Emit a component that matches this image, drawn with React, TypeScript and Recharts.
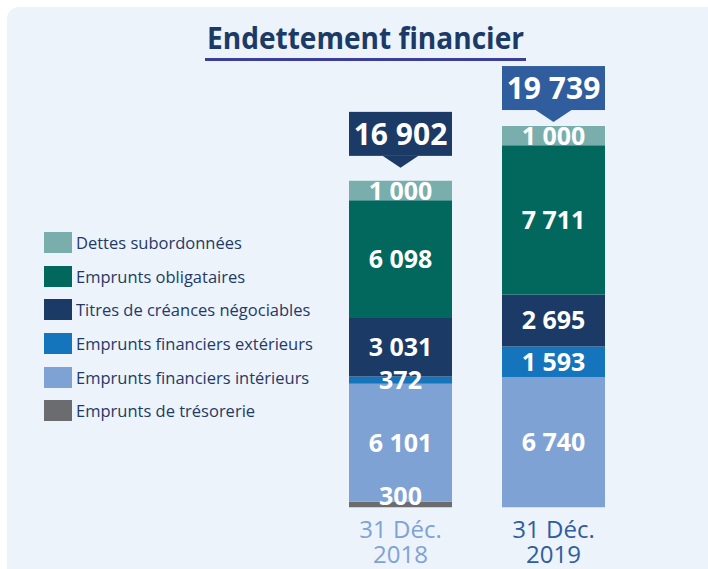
import { Bar, BarChart, LabelList, Legend, XAxis, YAxis } from 'recharts';

const categories = ['2018', '2019'];
const tresorerie = [300, 0];
const interieurs = [6101, 6740];
const exterieurs = [372, 1593];
const titres = [3031, 2695];
const obligataires = [6098, 7711];
const subordonnees = [1000, 1000];
const totals = [16902, 19739];

const seriesNames = {
    tresorerie: 'Emprunts de trésorerie',
    interieurs: 'Emprunts financiers intérieurs',
    exterieurs: 'Emprunts financiers extérieurs',
    titres: 'Titres de créances négociables',
    obligataires: 'Emprunts obligataires',
    subordonnees: 'Dettes subordonnées',
};

const colors = {
    tresorerie: '#6b6c70',
    interieurs: '#7fa2d5',
    exterieurs: '#1474bc',
    titres: '#1b3a66',
    obligataires: '#02675d',
    subordonnees: '#79aead',
};

const totalColors = ['#1b3a66', '#2f5d9e'];
const tickColors = ['#7fa2d5', '#2f5d9e'];

const data = categories.map((year, i) => ({
    year,
    tresorerie: tresorerie[i],
    interieurs: interieurs[i],
    exterieurs: exterieurs[i],
    titres: titres[i],
    obligataires: obligataires[i],
    subordonnees: subordonnees[i],
    total: totals[i],
}));

const keys = ['tresorerie', 'interieurs', 'exterieurs', 'titres', 'obligataires', 'subordonnees'] as const;

const fmt = (v: number) => String(v).replace(/\B(?=(\d{3})+(?!\d))/g, ' ');

const FONT = '"Open Sans", "Noto Sans", sans-serif';

const box = (props: any) => {
    const vb = props.viewBox || props;
    return { x: Number(vb.x), y: Number(vb.y), width: Number(vb.width), height: Math.abs(Number(vb.height)) };
};

// value inside a segment, the bottom one is pushed up so it stays in the chart
const valueLabel = (bottom: boolean) => (props: any) => {
    const { value } = props;
    if (!value) return null;
    const { x, y, width, height } = box(props);
    let cy = y + height / 2;
    if (bottom) cy = Math.min(cy, y + height - 12);
    return (
        <text x={x + width / 2} y={cy + 9} textAnchor="middle" fill="#fff" fontFamily={FONT} fontWeight={700} fontSize={25}>
            {fmt(value)}
        </text>
    );
};

const totalLabel = (props: any) => {
    const { index } = props;
    const { x, y, width } = box(props);
    const gap = index === 0 ? 25 : 16;
    const bottom = y - gap;
    const top = bottom - 44;
    const cx = x + width / 2;
    const color = totalColors[index];
    return (
        <g>
            <rect x={x} y={top} width={width} height={44} fill={color} />
            <polygon points={`${cx - 18},${bottom} ${cx + 18},${bottom} ${cx},${bottom + 12}`} fill={color} />
            <text x={cx} y={top + 33} textAnchor="middle" fill="#fff" fontFamily={FONT} fontWeight={700} fontSize={30}>
                {fmt(totals[index])}
            </text>
        </g>
    );
};

const YearTick = (props: any) => {
    const { x, y, payload, index } = props;
    const color = tickColors[index] || tickColors[0];
    return (
        <g fill={color} fontFamily={FONT} fontSize={24} textAnchor="middle">
            <text x={x} y={y + 22}>31 Déc.</text>
            <text x={x} y={y + 47}>{payload.value}</text>
        </g>
    );
};

const LegendBox = () => {
    const items = [...keys].reverse();
    return (
        <div>
            {items.map((k) => (
                <div key={k} style={{ display: 'flex', alignItems: 'center', height: 33.6 }}>
                    <div style={{ width: 28, height: 21, background: colors[k], marginRight: 4 }} />
                    <span style={{ fontFamily: FONT, fontSize: 16.5, color: '#1f3a66', whiteSpace: 'nowrap' }}>{seriesNames[k]}</span>
                </div>
            ))}
        </div>
    );
};

export default function App() {
    return (
        <div style={{ position: 'absolute', left: 0, top: 0, width: 708, height: 569, overflow: 'hidden', background: '#fff' }}>
            <div style={{ position: 'absolute', left: 7, top: 7, width: 740, height: 600, borderRadius: 12, background: '#ecf3fb' }} />
            <svg style={{ position: 'absolute', left: 0, top: 0 }} width={708} height={70}>
                <text x={207} y={49} textLength={317} lengthAdjust="spacingAndGlyphs" fill="#1b3a66" fontFamily={FONT} fontWeight={700} fontSize={30}>
                    Endettement financier
                </text>
                <rect x={205} y={58} width={321} height={3} fill="#3b3f9a" />
            </svg>
            <div style={{ position: 'absolute', left: 0, top: 0 }}>
                <BarChart width={708} height={569} data={data} margin={{ top: 121, right: 78, bottom: 0, left: 324 }} barSize={103}>
                    <XAxis dataKey="year" axisLine={false} tickLine={false} tick={<YearTick />} height={61.5} interval={0} />
                    <YAxis hide domain={[0, 20000]} allowDataOverflow />
                    <Legend
                        layout="vertical"
                        align="center"
                        verticalAlign="middle"
                        content={<LegendBox />}
                        wrapperStyle={{ left: 44, top: 226, width: 300, height: 210 }}
                    />
                    {keys.map((k) => (
                        <Bar key={k} dataKey={k} stackId="a" fill={colors[k]} name={seriesNames[k]} isAnimationActive={false}>
                            <LabelList dataKey={k} content={valueLabel(k === 'tresorerie')} />
                            {k === 'subordonnees' && <LabelList dataKey="total" content={totalLabel} />}
                        </Bar>
                    ))}
                </BarChart>
            </div>
        </div>
    );
}
